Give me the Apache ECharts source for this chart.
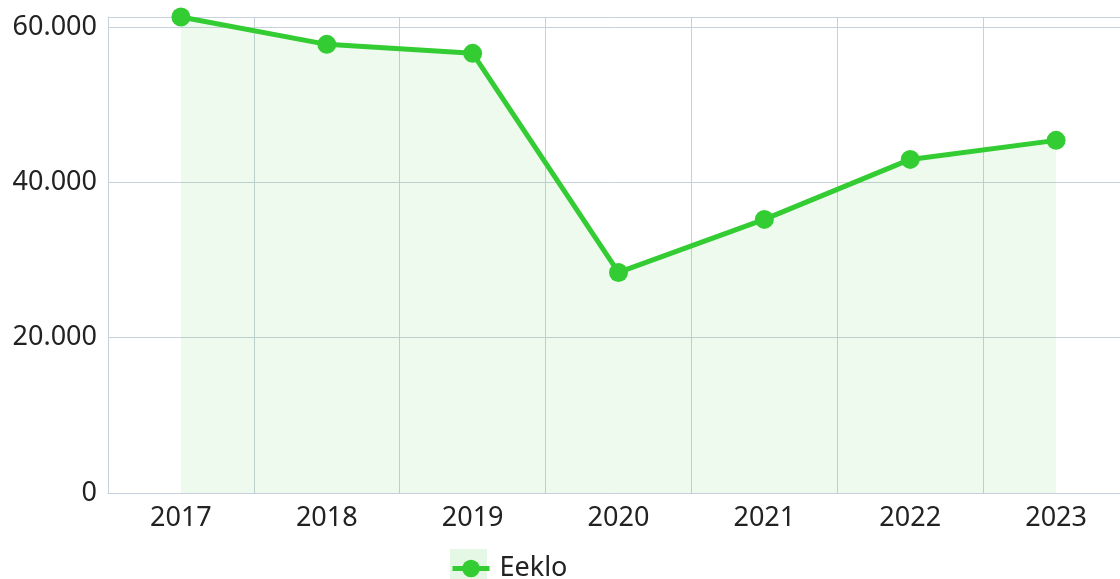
<!DOCTYPE html>
<html>
<head>
<meta charset="utf-8">
<script src="https://cdn.jsdelivr.net/npm/echarts@6/dist/echarts.min.js"></script>
<style>
  html, body { margin: 0; padding: 0; background: #fff; }
  #chart { width: 1120px; height: 579px; }
</style>
</head>
<body>
<div id="chart"></div>
<script>
const years = ['2017', '2018', '2019', '2020', '2021', '2022', '2023'];
const eeklo = [61270, 57750, 56590, 28390, 35220, 42940, 45390];
const yTicks = [0, 20000, 40000, 60000];

const green = '#33cc33';
const fill = 'rgba(51,204,51,0.13)';
const gridColor = '#c8d0dc';

function fmt(v) {
  return String(v).replace(/\B(?=(\d{3})+(?!\d))/g, '.');
}

const chart = echarts.init(document.getElementById('chart'));
chart.setOption({
  animation: false,
  textStyle: { fontFamily: 'Noto Sans' },
  graphic: [{
    type: 'rect',
    left: 450, top: 549, z: -1,
    shape: { width: 37, height: 30 },
    style: { fill: fill }
  }],
  legend: {
    top: 555,
    left: 450,
    padding: 0,
    itemWidth: 37,
    itemHeight: 22,
    lineStyle: { width: 5 },
    textStyle: { fontSize: 27, color: '#222', padding: [0, 0, 0, 5] },
    data: ['Eeklo']
  },
  grid: { left: 108, width: 1021, top: 17, bottom: 86, outerBoundsMode: 'none' },
  xAxis: {
    type: 'category',
    data: years,
    boundaryGap: true,
    axisLine: { lineStyle: { color: gridColor, width: 1 } },
    axisTick: { show: false },
    axisLabel: { fontSize: 27, color: '#222', margin: 12 },
    splitLine: { show: true, lineStyle: { color: gridColor } }
  },
  yAxis: {
    type: 'value',
    min: 0,
    max: 'dataMax',
    interval: 20000,
    axisLine: { show: true, lineStyle: { color: gridColor } },
    axisTick: { show: false },
    axisLabel: {
      fontSize: 27, color: '#222', margin: 11,
      showMaxLabel: false,
      formatter: v => yTicks.includes(v) ? fmt(v) : ''
    },
    splitLine: { lineStyle: { color: gridColor } }
  },
  series: [{
    name: 'Eeklo',
    type: 'line',
    data: eeklo,
    symbol: 'circle',
    symbolSize: 19,
    lineStyle: { color: green, width: 5 },
    itemStyle: { color: green },
    areaStyle: { color: fill }
  }]
});
</script>
</body>
</html>
